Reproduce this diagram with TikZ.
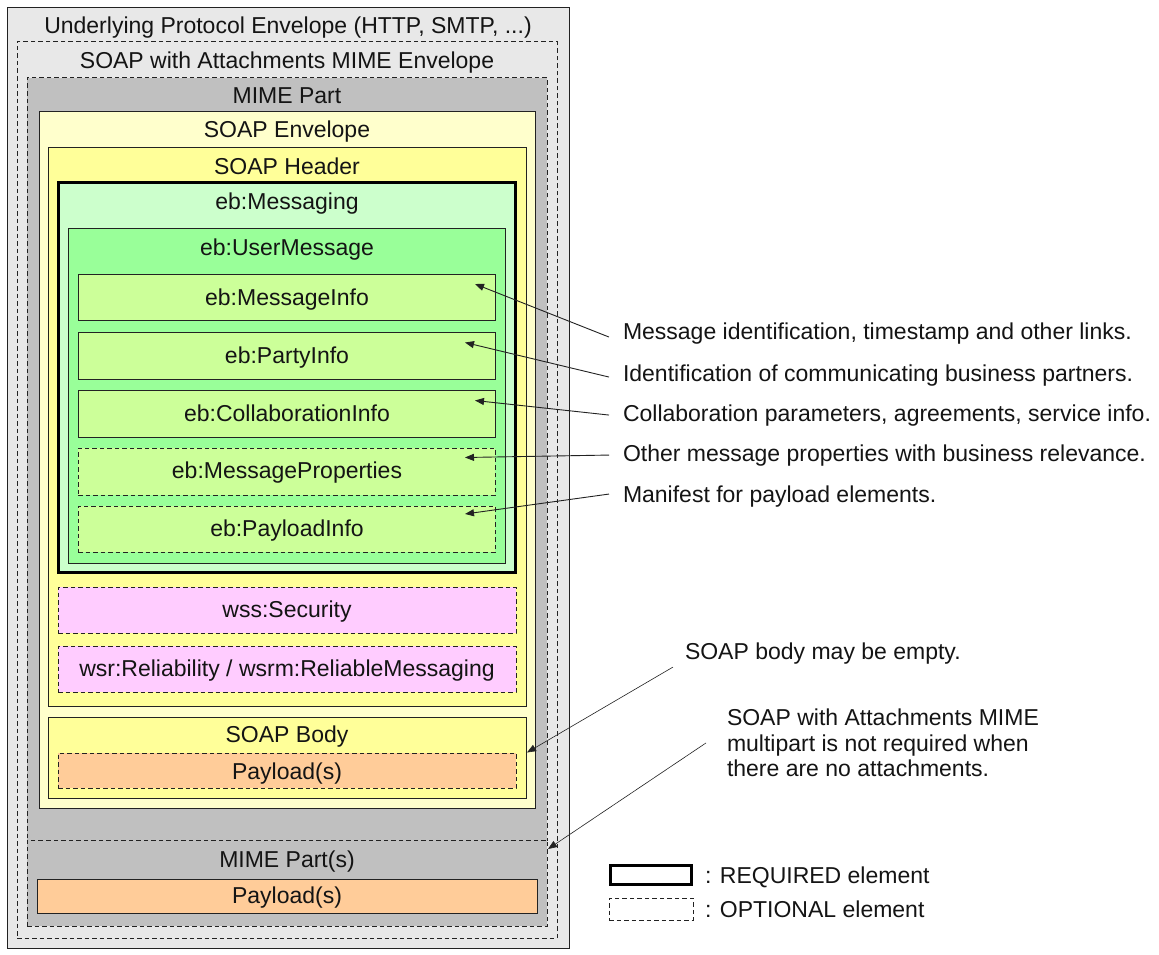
\documentclass[tikz,border=0pt]{standalone}
\usepackage{fontspec}
\setmainfont{Liberation Sans}
\usetikzlibrary{arrows.meta,calc}
\definecolor{cOuter}{HTML}{E8E8E8}
\definecolor{cMime}{HTML}{C0C0C0}
\definecolor{cEnv}{HTML}{FFFFCC}
\definecolor{cHdr}{HTML}{FFFF99}
\definecolor{cMsg}{HTML}{CCFFCC}
\definecolor{cUm}{HTML}{99FF99}
\definecolor{cInfo}{HTML}{CCFF99}
\definecolor{cSec}{HTML}{FFCCFF}
\definecolor{cPay}{HTML}{FFCC99}
\definecolor{cLine}{HTML}{222222}
\tikzset{
  box/.style={draw=cLine, line width=1pt, anchor=north west, inner sep=0pt, outer sep=0pt},
  optbox/.style={box, dash pattern=on 4.5pt off 3pt},
  reqbox/.style={box, draw=black, line width=3pt},
  txt/.style={font=\fontsize{23}{25.5}\selectfont, inner sep=0pt, outer sep=0pt, text=black!92, anchor=base},
  anntxt/.style={txt, anchor=base west},
  ann/.style={-{Triangle[length=9pt,width=7pt]}, line width=0.9pt, draw=cLine},
}
\newcommand\bx[6]{\node[#6, minimum width={(#4-#2)*1pt}, minimum height={(#5-#3)*1pt}] (#1) at (#2,#3) {};}
\begin{document}
\begin{tikzpicture}[x=1pt,y=-1pt]
\useasboundingbox[fill=white] (0,0) rectangle (1159,955);
% containers
\bx{outer}{7}{8}{569}{948}{box, fill=cOuter}
\bx{swa}{17}{42}{557}{938}{optbox, fill=cOuter}
\bx{mime}{27}{78}{547}{840}{optbox, fill=cMime}
\bx{mimes}{27}{840}{547}{926}{optbox, fill=cMime}
\bx{env}{39}{112}{535}{808}{box, fill=cEnv}
\bx{hdr}{48}{148}{526}{706}{box, fill=cHdr}
\bx{msg}{58.5}{182.5}{515.5}{572.5}{reqbox, fill=cMsg}
\bx{um}{68}{228}{505}{563}{box, fill=cUm}
\bx{mi}{78}{274}{495}{320}{box, fill=cInfo}
\bx{pi}{78}{332}{495}{379}{box, fill=cInfo}
\bx{ci}{78}{390}{495}{437}{box, fill=cInfo}
\bx{mp}{78}{448}{495}{495}{optbox, fill=cInfo}
\bx{pl}{78}{506}{495}{552}{optbox, fill=cInfo}
\bx{sec}{58}{587}{516}{633}{optbox, fill=cSec}
\bx{rel}{58}{646}{516}{692}{optbox, fill=cSec}
\bx{body}{48}{717}{526}{798}{box, fill=cHdr}
\bx{payA}{58}{753}{516}{788}{optbox, fill=cPay}
\bx{payB}{37}{879}{537}{913}{box, fill=cPay}
% titles
\node[txt] (tOuter) at (288,34) {Underlying Protocol Envelope (HTTP, SMTP, ...)};
\node[txt] (tSwa) at (287,69) {SOAP with Attachments MIME Envelope};
\node[txt] (tMime) at (287,104) {MIME Part};
\node[txt] (tEnv) at (287,138) {SOAP Envelope};
\node[txt] (tHdr) at (287,174) {SOAP Header};
\node[txt] (tMsg) at (287,209) {eb:Messaging};
\node[txt] (tUm) at (287,255) {eb:UserMessage};
\node[txt] (tMi) at (287,305) {eb:MessageInfo};
\node[txt] (tPi) at (287,363) {eb:PartyInfo};
\node[txt] (tCi) at (287,421) {eb:CollaborationInfo};
\node[txt] (tMp) at (287,478) {eb:MessageProperties};
\node[txt] (tPl) at (287,536) {eb:PayloadInfo};
\node[txt] (tSec) at (287,617) {wss:Security};
\node[txt] (tRel) at (287,676) {wsr:Reliability / wsrm:ReliableMessaging};
\node[txt] (tBody) at (287,742) {SOAP Body};
\node[txt] (tPayA) at (287,779) {Payload(s)};
\node[txt] (tMimes) at (287,867) {MIME Part(s)};
\node[txt] (tPayB) at (287,903) {Payload(s)};
% annotations
\node[anntxt] (a1) at (623,339) {Message identification, timestamp and other links.};
\node[anntxt] (a2) at (623,381) {Identification of communicating business partners.};
\node[anntxt] (a3) at (623,421) {Collaboration parameters, agreements, service info.};
\node[anntxt] (a4) at (623,461) {Other message properties with business relevance.};
\node[anntxt] (a5) at (623,502) {Manifest for payload elements.};
\node[anntxt] (a6) at (685,659) {SOAP body may be empty.};
\node[txt, anchor=north west, align=left] (a7) at (727,709) {SOAP with Attachments MIME\\multipart is not required when\\there are no attachments.};
\draw[ann] ([xshift=-14pt,yshift=-4pt]a1.west) -- ([xshift=-20pt,yshift=13pt]mi.east);
\draw[ann] ([xshift=-14pt,yshift=-2pt]a2.west) -- ([xshift=-30pt,yshift=13pt]pi.east);
\draw[ann] ([xshift=-14pt,yshift=0pt]a3.west) -- ([xshift=-20pt,yshift=13pt]ci.east);
\draw[ann] ([xshift=-14pt,yshift=0pt]a4.west) -- ([xshift=-30pt,yshift=14pt]mp.east);
\draw[ann] ([xshift=-14pt,yshift=2pt]a5.west) -- ([xshift=-30pt,yshift=15pt]pl.east);
\draw[ann, line width=0.6pt] ([xshift=-12pt,yshift=-14pt]a6.west) -- ([xshift=1pt,yshift=5pt]body.east);
\draw[ann, line width=0.6pt] ([xshift=-21pt]a7.west) -- ([xshift=1pt,yshift=-9pt]mimes.north east);
% legend
\bx{lreq}{610.5}{865.5}{691.5}{884.5}{reqbox, fill=white}
\bx{lopt}{609}{898}{693}{920}{optbox, fill=white}
\node[anntxt] (lreqt) at (705,883) {: REQUIRED element};
\node[anntxt] (loptt) at (705,917) {: OPTIONAL element};
\end{tikzpicture}
\end{document}
